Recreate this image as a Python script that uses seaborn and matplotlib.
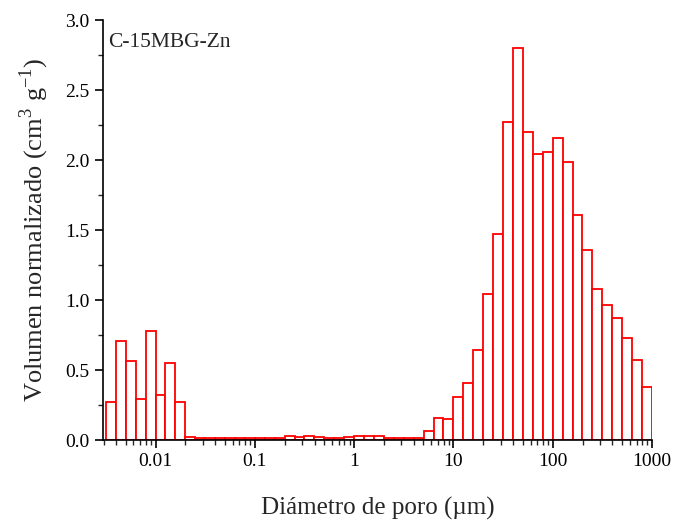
import numpy as np
import pandas as pd
import matplotlib
matplotlib.use("Agg")
import matplotlib.pyplot as plt
import matplotlib.ticker as mticker
import seaborn as sns

# volumen normalizado por intervalo (0.1 décadas, desde 10^-2.5 hasta 10^3)
vol_finos = [0.274, 0.706, 0.563, 0.291, 0.778, 0.322, 0.553, 0.272, 0.025]
vol_medios = [0.012, 0.012, 0.012, 0.012, 0.012, 0.012, 0.012, 0.012, 0.012,
              0.026, 0.024, 0.026, 0.020, 0.012, 0.016, 0.020, 0.026, 0.030,
              0.030, 0.018, 0.018, 0.018, 0.016]
vol_macro = [0.066, 0.155, 0.148, 0.31, 0.41, 0.64, 1.04, 1.47, 2.274, 2.80,
             2.20, 2.045, 2.054, 2.157, 1.983, 1.61, 1.358, 1.079, 0.964,
             0.871, 0.728, 0.573, 0.379]
volumen = np.array(vol_finos + vol_medios + vol_macro)

log_ini, log_fin = -2.5, 3.0
n_bins = len(volumen)
bordes = np.linspace(log_ini, log_fin, n_bins + 1)
diametro = 10 ** ((bordes[:-1] + bordes[1:]) / 2)

df = pd.DataFrame({"diametro": diametro, "volumen": volumen})

x_ticks = [0.01, 0.1, 1, 10, 100, 1000]
x_labels = ["0.01", "0.1", "1", "10", "100", "1000"]

sns.set_theme(style="ticks")
plt.rcParams['font.family'] = ['Liberation Serif', 'DejaVu Serif']
plt.rcParams['mathtext.fontset'] = 'custom'
plt.rcParams['mathtext.rm'] = 'Liberation Serif'

fig = plt.figure(figsize=(6.77, 5.27), dpi=100)
ax = fig.add_axes([0.152, 0.165, 0.811, 0.797])

sns.histplot(data=df, x="diametro", weights="volumen", bins=list(bordes),
             log_scale=True, element="bars", fill=True, color="white",
             edgecolor="#ff0000", linewidth=1.3, alpha=1, ax=ax)

ax.set_xlim(10 ** -2.53, 1000)
ax.set_ylim(0, 3.0)
ax.set_xticks(x_ticks)
ax.set_xticklabels(x_labels)
ax.xaxis.set_minor_locator(mticker.LogLocator(base=10, subs=np.arange(2, 10)))
ax.xaxis.set_minor_formatter(mticker.NullFormatter())
ax.yaxis.set_major_locator(mticker.MultipleLocator(0.5))
ax.yaxis.set_minor_locator(mticker.MultipleLocator(0.25))
ax.yaxis.set_major_formatter(mticker.FormatStrFormatter("%.1f"))

ax.tick_params(which="major", direction="out", length=6, width=1.2,
               labelsize=14, colors="black")
ax.tick_params(which="minor", direction="out", length=3.5, width=1.0)
for s in ["left", "bottom"]:
    ax.spines[s].set_linewidth(1.2)
    ax.spines[s].set_color("black")
sns.despine(ax=ax)

ax.set_xlabel("Diámetro de poro (µm)", fontsize=18, labelpad=19)
ax.set_ylabel("Volumen normalizado (cm$^3$ g$^{-1}$)", fontsize=19, labelpad=10)
ax.text(0.010, 0.97, "C-15MBG-Zn", transform=ax.transAxes, fontsize=15.5,
        va="top", ha="left")

fig.savefig("out.png", dpi=100)
